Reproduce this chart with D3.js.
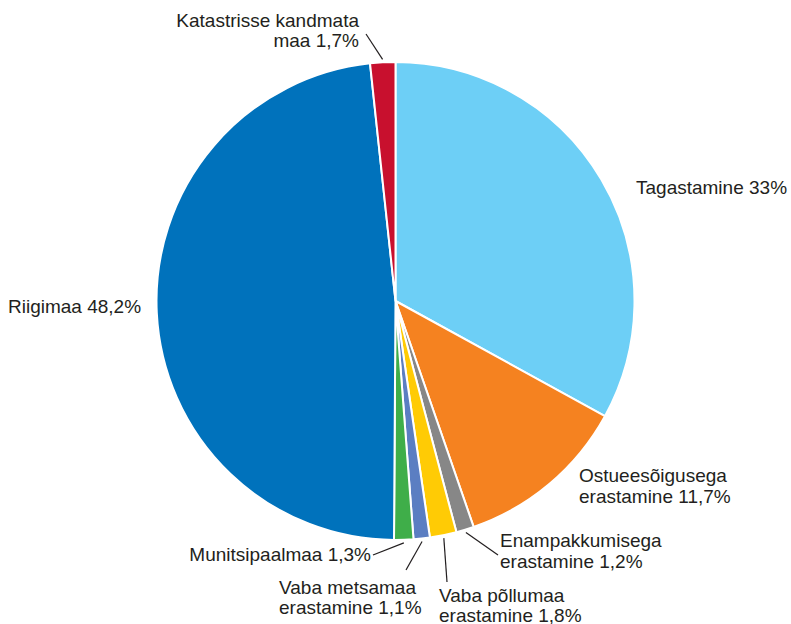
<!DOCTYPE html>
<html><head><meta charset="utf-8">
<script src="https://cdn.jsdelivr.net/npm/d3@7"></script>
<style>body{margin:0;background:#fff}svg{display:block}</style>
</head><body>
<script>
const categories = ["Tagastamine","Ostueesõigusega erastamine","Enampakkumisega erastamine","Vaba põllumaa erastamine","Vaba metsamaa erastamine","Munitsipaalmaa","Riigimaa","Katastrisse kandmata maa"];
const values = [33, 11.7, 1.2, 1.8, 1.1, 1.3, 48.2, 1.7];
const valueLabels = ["33%","11,7%","1,2%","1,8%","1,1%","1,3%","48,2%","1,7%"];
const colors = ["#6dcff6","#f58220","#878787","#ffcb05","#5b7ec2","#3fae49","#0072bc","#c8102e"];
const labelLines = [
  ["Tagastamine 33%"],
  ["Ostueesõigusega","erastamine 11,7%"],
  ["Enampakkumisega","erastamine 1,2%"],
  ["Vaba põllumaa","erastamine 1,8%"],
  ["Vaba metsamaa","erastamine 1,1%"],
  ["Munitsipaalmaa 1,3%"],
  ["Riigimaa 48,2%"],
  ["Katastrisse kandmata","maa 1,7%"]
];
const labelPos = [
  {x:636,y:194,a:"start",lh:21},
  {x:579,y:481.5,a:"start",lh:21},
  {x:500,y:546.5,a:"start",lh:21},
  {x:439,y:601.5,a:"start",lh:20},
  {x:279,y:594,a:"start",lh:20},
  {x:371,y:560.5,a:"end",lh:21},
  {x:8,y:313,a:"start",lh:21},
  {x:359,y:26.5,a:"end",lh:20.5}
];
const leaderEnd = [null,null,[498,555],[447,582],[406,570],[373,555],null,[366,34]];

const W=791,H=624,cx=395.5,cy=301,r=239;
const svg=d3.select("body").append("svg").attr("width",W).attr("height",H);
const g=svg.append("g").attr("transform",`translate(${cx},${cy})`);
const pie=d3.pie().sort(null).value(d=>d);
const arcs=pie(values);
const arc=d3.arc().innerRadius(0).outerRadius(r);
g.selectAll("path").data(arcs).join("path")
  .attr("d",arc).attr("fill",(d,i)=>colors[i])
  .attr("stroke","#fff").attr("stroke-width",2).attr("stroke-linejoin","round");

arcs.forEach((d,i)=>{
  if(!leaderEnd[i]) return;
  const m=(d.startAngle+d.endAngle)/2, rr=r+3;
  svg.append("line")
    .attr("x1",cx+rr*Math.sin(m)).attr("y1",cy-rr*Math.cos(m))
    .attr("x2",leaderEnd[i][0]).attr("y2",leaderEnd[i][1])
    .attr("stroke","#231f20").attr("stroke-width",1.2);
});

labelLines.forEach((lines,i)=>{
  const p=labelPos[i];
  const t=svg.append("text").attr("x",p.x).attr("y",p.y).attr("text-anchor",p.a)
    .attr("font-family","'Liberation Sans', Arial, sans-serif").attr("font-size",19).attr("fill","#231f20");
  lines.forEach((l,j)=>t.append("tspan").attr("x",p.x).attr("dy",j?p.lh:0).text(l));
});
</script>
</body></html>
